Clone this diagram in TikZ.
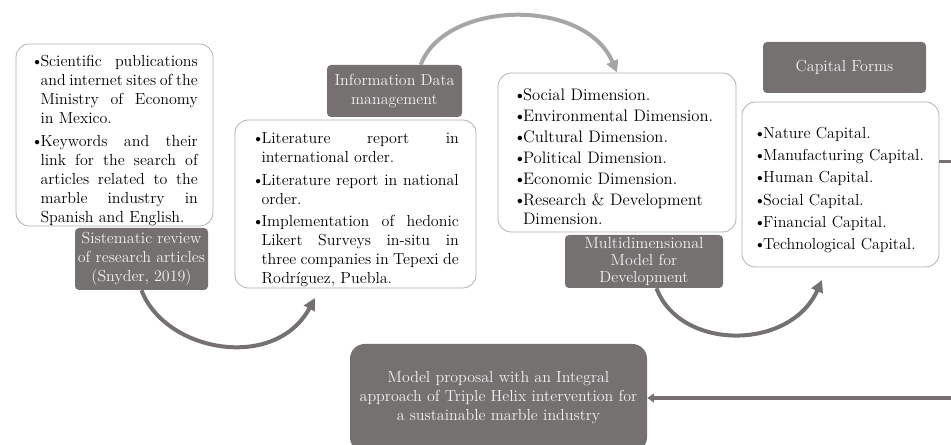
\documentclass[tikz,border=0pt]{standalone}
\usetikzlibrary{arrows.meta}

\definecolor{tagfill}{RGB}{118,113,113}
\definecolor{lightarc}{RGB}{166,166,166}
\definecolor{boxline}{RGB}{175,175,175}
\definecolor{tagtext}{RGB}{242,242,242}

\hyphenpenalty=10000
\exhyphenpenalty=10000
\emergencystretch=2em

\newcommand{\itm}{\par\hangindent=7pt\hangafter=1\noindent\makebox[7pt][l]{\textbullet}}

\tikzset{
  listbox/.style={draw=boxline, line width=0.6pt, rounded corners=10pt, inner sep=0pt, fill=white,
    font=\fontsize{12}{14.25}\selectfont\setlength{\parskip}{2.5pt}},
  tagbox/.style={fill=tagfill, text=tagtext, rounded corners=3pt, inner sep=0pt, align=center,
    font=\fontsize{12}{14.25}\selectfont},
  darkflow/.style={draw=tagfill, line width=3pt, -{Triangle[length=9pt,width=9pt]}},
  lightflow/.style={draw=lightarc, line width=3pt, -{Triangle[length=9pt,width=9pt]}},
  backflow/.style={draw=tagfill, line width=2.6pt, -{Triangle[length=5pt,width=6.5pt]}},
}

\begin{document}
\begin{tikzpicture}[x=0.75pt,y=0.75pt,yscale=-1]

\useasboundingbox (0,0) rectangle (951,445);
\clip (0,0) rectangle (951,445);

% Text Node
\node[listbox, text width=125pt, align=justify, minimum width=147.75pt, minimum height=136.5pt] (sources) at (114.5,135)
  {\itm Scientific publications and internet sites of the Ministry of Economy in Mexico.
   \itm Keywords and their\linebreak link for the search of\linebreak articles related to the\linebreak marble industry in\linebreak Spanish and English.\par};
% Text Node
\node[tagbox, minimum width=99.75pt, minimum height=46.5pt] (review) at (141.5,259) {Sistematic review\\of research articles\\(Snyder, 2019)};

% Text Node
\node[listbox, text width=155pt, align=justify, minimum width=180.75pt, minimum height=126pt] (lit) at (355.5,204)
  {\itm Literature report in\linebreak international order.
   \itm Literature report in national order.
   \itm Implementation of hedonic Likert Surveys in-situ in three companies in Tepexi de Rodríguez, Puebla.\par};
% Text Node
\node[tagbox, minimum width=101.25pt, minimum height=39pt] (data) at (394.5,91) {Information Data\\management};

% Text Node
\node[listbox, text width=155pt, align=left, minimum width=178.5pt, minimum height=119.25pt,
      font=\fontsize{12.5}{14.25}\selectfont\setlength{\parskip}{1.5pt}] (dims) at (617,152.5)
  {\itm Social Dimension.
   \itm Environmental Dimension.
   \itm Cultural Dimension.
   \itm Political Dimension.
   \itm Economic Dimension.
   \itm Research \& Development Dimension.\par};
% Text Node
\node[tagbox, minimum width=118.5pt, minimum height=39.75pt, font=\fontsize{12}{12.5}\selectfont] (multi) at (644,261.5) {Multidimensional\\Model for\\Development};

% Text Node
\node[listbox, text width=130pt, align=left, minimum width=147.75pt, minimum height=123.75pt] (forms) at (840.5,184.5)
  {\itm Nature Capital.
   \itm Manufacturing Capital.
   \itm Human Capital.
   \itm Social Capital.
   \itm Financial Capital.
   \itm Technological Capital.\par};
% Text Node
\node[tagbox, minimum width=122.25pt, minimum height=38.25pt] (capital) at (844.5,67.5) {Capital Forms};

% Text Node
\node[tagbox, rounded corners=11pt, minimum width=222.75pt, minimum height=81pt] (model) at (498.5,398)
  {Model proposal with an Integral\\approach of Triple Helix intervention for\\a sustainable marble industry};

% Curves
\coordinate (litin) at (315,298);
\coordinate (formsin) at (822,280);
\draw[darkflow] (review.south) .. controls (165,352) and (275,372) .. (litin);
\draw[lightflow] (data.45) .. controls (445,0) and (585,-3) .. (dims.north);
\draw[darkflow] (multi.-65) .. controls (680,351) and (790,351) .. (formsin);

% Straight Lines
\draw[backflow] (forms.13) -- ++(40,0) |- (model.east);

\end{tikzpicture}
\end{document}
